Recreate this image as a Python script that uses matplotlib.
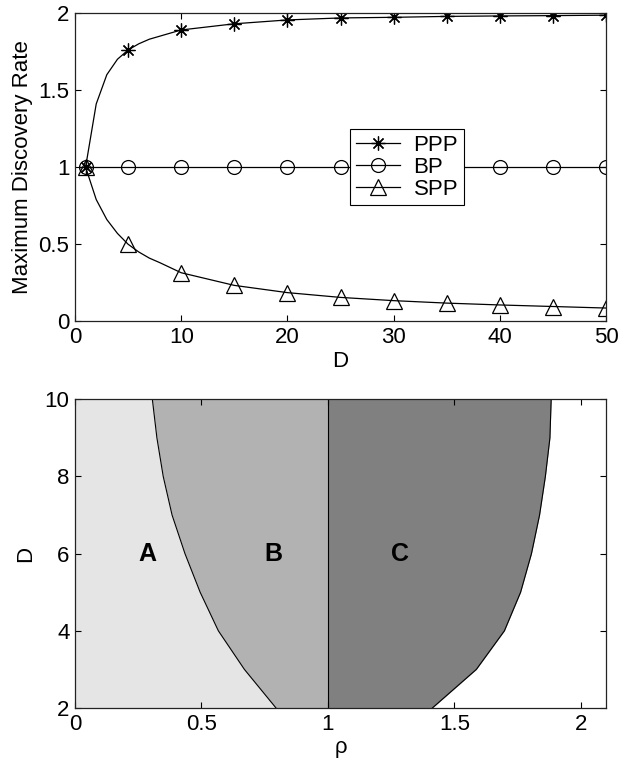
import matplotlib
matplotlib.use("Agg")
import matplotlib.pyplot as plt
from matplotlib.ticker import FormatStrFormatter

plt.rcParams['font.family'] = ['Liberation Sans', 'DejaVu Sans']
plt.rcParams['font.size'] = 16

# Top panel: maximum discovery rate vs D
d_line = [1, 2, 3, 4, 5, 6, 7, 8, 10, 15, 20, 25, 30, 35, 40, 45, 50]
ppp = [1.0, 1.41, 1.60, 1.70, 1.76, 1.80, 1.83, 1.85, 1.89, 1.93, 1.955,
       1.968, 1.972, 1.978, 1.981, 1.983, 1.986]
bp = [1.0] * len(d_line)
spp = [1.0, 0.79, 0.66, 0.57, 0.50, 0.45, 0.41, 0.38, 0.315, 0.233, 0.186,
       0.155, 0.134, 0.118, 0.106, 0.096, 0.086]
marker_d = [1, 5, 10, 15, 20, 25, 30, 35, 40, 45, 50]

# Bottom panel: region boundaries in (rho, D)
d_region = [2, 3, 4, 5, 6, 7, 8, 9, 10]
rho_left = [0.795, 0.67, 0.567, 0.495, 0.435, 0.384, 0.349, 0.324, 0.306]
rho_right = [1.413, 1.587, 1.698, 1.762, 1.805, 1.837, 1.860, 1.878, 1.883]
rho_mid = [1.0] * len(d_region)
region_labels = ['A', 'B', 'C']
region_label_x = [0.286, 0.786, 1.284]
region_label_y = 6


def style_axes(ax):
    ax.tick_params(direction='in', top=True, right=True, length=4,
                   width=0.8, labelsize=16, pad=4)
    for s in ax.spines.values():
        s.set_linewidth(0.9)
        s.set_color('#222222')


fig = plt.figure(figsize=(6.3, 7.65), dpi=100)

ax1 = fig.add_axes([0.119, 0.580, 0.843, 0.403])
marks = [d_line.index(d) for d in marker_d]
ax1.plot(d_line, ppp, color='black', lw=0.9, marker=(8, 2, 0), ms=10,
         mew=0.9, markevery=marks, label='PPP')
ax1.plot(d_line, bp, color='black', lw=0.9, marker='o', ms=10, mfc='none',
         mew=0.9, markevery=marks, label='BP')
ax1.plot(d_line, spp, color='black', lw=0.9, marker='^', ms=11, mfc='none',
         mew=0.9, markevery=marks, label='SPP')
ax1.set_xlim(0, 50)
ax1.set_ylim(0, 2)
ax1.set_xticks(range(0, 51, 10))
ax1.set_yticks([0, 0.5, 1, 1.5, 2])
ax1.yaxis.set_major_formatter(FormatStrFormatter('%g'))
ax1.set_xlabel('D', labelpad=2)
ax1.set_ylabel('Maximum Discovery Rate', labelpad=4)
style_axes(ax1)
leg = ax1.legend(loc='center', bbox_to_anchor=(0.625, 0.5), fancybox=False,
                 edgecolor='black', framealpha=1, fontsize=16,
                 handlelength=2.0, borderpad=0.25, labelspacing=0.05,
                 handletextpad=0.6)
leg.get_frame().set_linewidth(0.8)

ax2 = fig.add_axes([0.119, 0.0745, 0.843, 0.4035])
ax2.fill_betweenx(d_region, 0, rho_left, color='#e5e5e5', lw=0)
ax2.fill_betweenx(d_region, rho_left, rho_mid, color='#b2b2b2', lw=0)
ax2.fill_betweenx(d_region, rho_mid, rho_right, color='#808080', lw=0)
ax2.plot(rho_left, d_region, color='black', lw=0.8)
ax2.plot(rho_mid, d_region, color='black', lw=0.8)
ax2.plot(rho_right, d_region, color='black', lw=0.8)
for lab, x in zip(region_labels, region_label_x):
    ax2.text(x, region_label_y, lab, ha='center', va='center',
             fontsize=18, fontweight='bold')
ax2.set_xlim(0, 2.1)
ax2.set_ylim(2, 10)
ax2.set_xticks([0, 0.5, 1, 1.5, 2])
ax2.set_yticks([2, 4, 6, 8, 10])
ax2.xaxis.set_major_formatter(FormatStrFormatter('%g'))
ax2.set_xlabel('ρ', labelpad=2)
ax2.set_ylabel('D', labelpad=6)
style_axes(ax2)

fig.savefig('out.png', dpi=100)
